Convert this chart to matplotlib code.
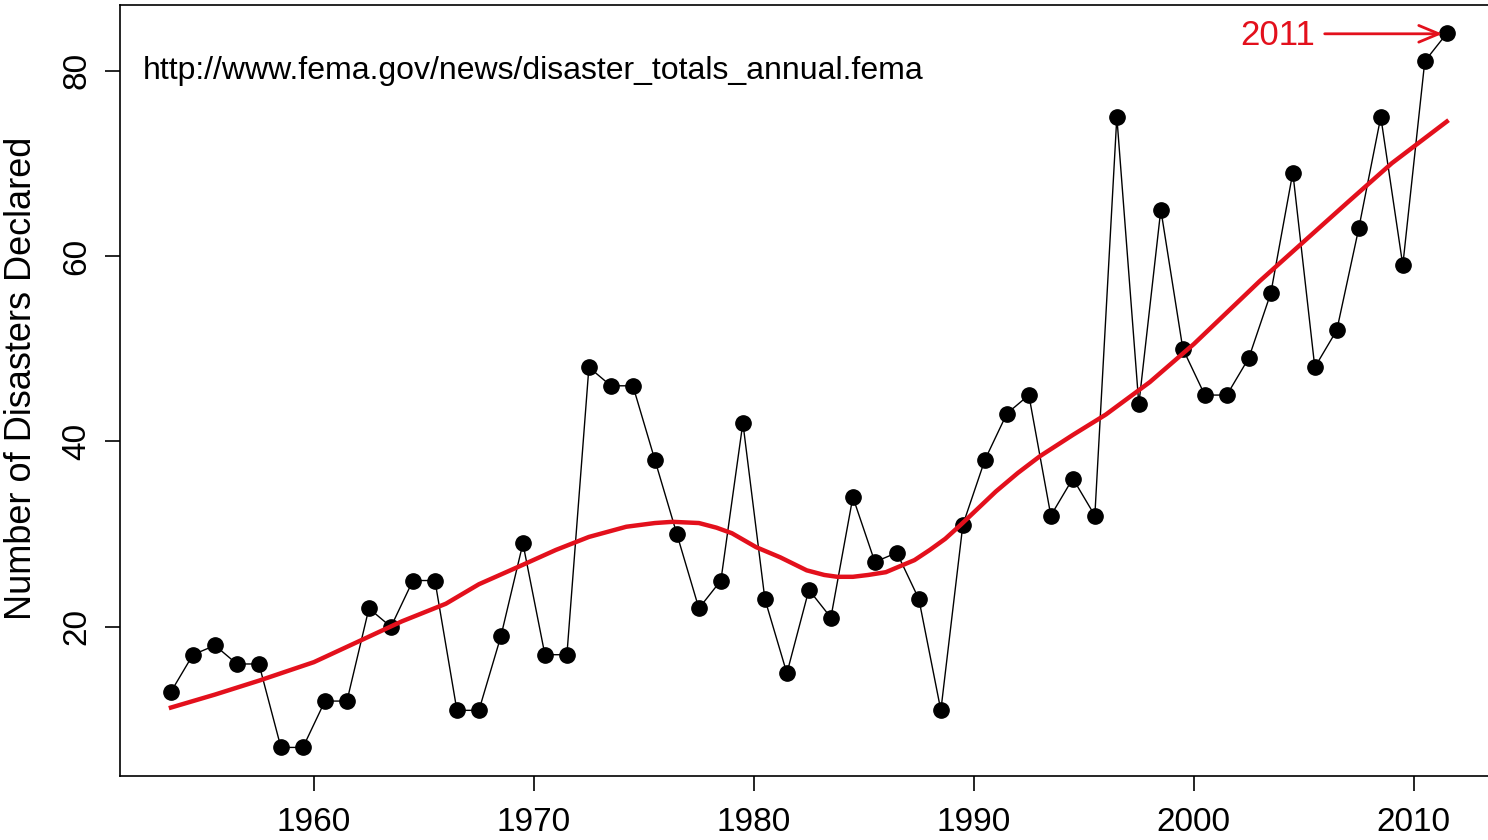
import matplotlib.pyplot as plt

# годовые данные FEMA
years = list(range(1953, 2012))
disasters = [13, 17, 18, 16, 16, 7, 7, 12, 12, 22,
             20, 25, 25, 11, 11, 19, 29, 17, 17, 48,
             46, 46, 38, 30, 22, 25, 42, 23, 15, 24,
             21, 34, 27, 28, 23, 11, 31, 38, 43, 45,
             32, 36, 32, 75, 44, 65, 50, 45, 45, 49,
             56, 69, 48, 52, 63, 75, 59, 81, 84]

# сглаженная красная кривая (точки)
smooth_x = [1953.5, 1955.5, 1957.5, 1960.0, 1962.0, 1964.0, 1966.0, 1967.5,
            1969.5, 1971.0, 1972.5, 1974.2, 1975.5, 1976.3, 1977.5, 1978.3,
            1979.0, 1980.1, 1981.2, 1982.4, 1983.2, 1983.8, 1984.5, 1985.2,
            1986.0, 1986.6, 1987.3, 1988.0, 1988.7, 1989.4, 1990.2, 1991.0,
            1992.0, 1993.0, 1994.5, 1996.0, 1998.0, 2000.0, 2003.0, 2007.0,
            2009.0, 2011.5]
smooth_y = [11.3, 12.7, 14.2, 16.2, 18.4, 20.6, 22.5, 24.6,
            26.7, 28.3, 29.7, 30.8, 31.2, 31.33, 31.2, 30.7,
            30.1, 28.6, 27.5, 26.1, 25.6, 25.4, 25.4, 25.6,
            25.9, 26.5, 27.2, 28.3, 29.5, 31.0, 32.8, 34.6,
            36.6, 38.4, 40.7, 42.9, 46.4, 50.5, 57.3, 65.8,
            70.0, 74.5]

x_ticks = [1960, 1970, 1980, 1990, 2000, 2010]
y_ticks = [20, 40, 60, 80]

source = "http://www.fema.gov/news/disaster_totals_annual.fema"

plt.rcParams['font.family'] = ['Liberation Sans', 'DejaVu Sans']

fig = plt.figure(figsize=(14.88, 8.4), dpi=100)
ax = fig.add_axes([0.0806, 0.0762, 0.926, 0.918])

x = [y + 0.5 for y in years]
ax.plot(x, disasters, color='black', lw=1.0, marker='o', ms=11, zorder=2)
ax.plot(smooth_x, smooth_y, color='#e3101c', lw=3.2, zorder=3,
        solid_joinstyle='round')

ax.set_xlim(1951.18, 2013.82)
ax.set_ylim(3.92, 87.08)
ax.set_xticks(x_ticks)
ax.set_yticks(y_ticks)
ax.tick_params(axis='both', direction='out', length=11, width=1.2,
               labelsize=24, pad=11)
ax.tick_params(axis='y', labelrotation=90, pad=9)
for lab in ax.get_yticklabels():
    lab.set_va('center')
for s in ax.spines.values():
    s.set_linewidth(1.2)

ax.set_ylabel("Number of Disasters Declared", fontsize=26)
ax.yaxis.set_label_coords(-0.059, 0.516)

ax.text(1952.2, 80, source, fontsize=23, va='center', ha='left')

# подпись и стрелка для 2011
red = '#e3101c'
ax.text(2005.53, 83.8, "2011", color=red, fontsize=25, va='center', ha='right')
ax.annotate("", xy=(2011.3, 83.96), xytext=(2005.95, 83.96),
            arrowprops=dict(arrowstyle='->, head_length=0.6, head_width=0.25',
                            color=red, lw=2, mutation_scale=24,
                            shrinkA=0, shrinkB=0))

fig.savefig('out.png', dpi=100)
